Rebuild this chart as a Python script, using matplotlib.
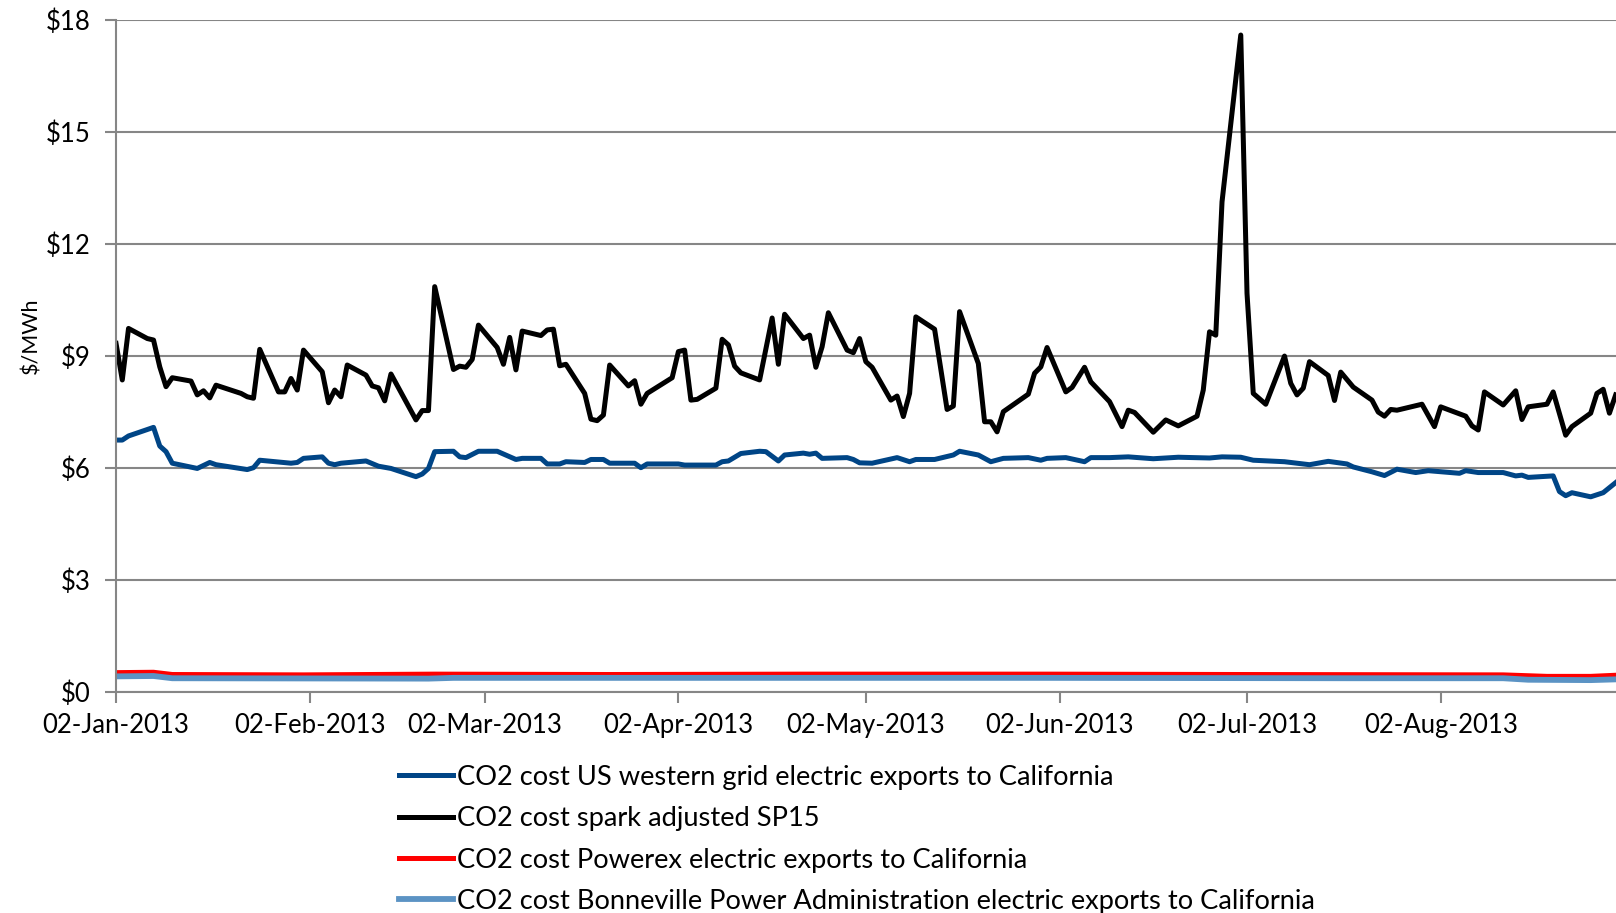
import matplotlib
matplotlib.use("Agg")
import matplotlib.pyplot as plt
import matplotlib.dates as mdates
import pandas as pd

# daily CO2 cost estimates, $/MWh, 2013
spark_days = ["01-02", "01-03", "01-04", "01-07", "01-08", "01-09", "01-10", "01-11", "01-14", "01-15",
              "01-16", "01-17", "01-18", "01-22", "01-23", "01-24", "01-25", "01-28", "01-29", "01-30",
              "01-31", "02-01", "02-04", "02-05", "02-06", "02-07", "02-08", "02-11", "02-12", "02-13",
              "02-14", "02-15", "02-19", "02-20", "02-21", "02-22", "02-25", "02-26", "02-27", "02-28",
              "03-01", "03-04", "03-05", "03-06", "03-07", "03-08", "03-11", "03-12", "03-13", "03-14",
              "03-15", "03-18", "03-19", "03-20", "03-21", "03-22", "03-25", "03-26", "03-27", "03-28",
              "04-01", "04-02", "04-03", "04-04", "04-05", "04-08", "04-09", "04-10", "04-11", "04-12",
              "04-15", "04-17", "04-18", "04-19", "04-22", "04-23", "04-24", "04-25", "04-26", "04-29",
              "04-30", "05-01", "05-02", "05-03", "05-06", "05-07", "05-08", "05-09", "05-10", "05-13",
              "05-15", "05-16", "05-17", "05-20", "05-21", "05-22", "05-23", "05-24", "05-28", "05-29",
              "05-30", "05-31", "06-03", "06-04", "06-06", "06-07", "06-10", "06-12", "06-13", "06-14",
              "06-17", "06-19", "06-21", "06-24", "06-25", "06-26", "06-27", "06-28", "07-01", "07-02",
              "07-03", "07-05", "07-08", "07-09", "07-10", "07-11", "07-12", "07-15", "07-16", "07-17",
              "07-19", "07-22", "07-23", "07-24", "07-25", "07-26", "07-30", "08-01", "08-02", "08-06",
              "08-07", "08-08", "08-09", "08-12", "08-14", "08-15", "08-16", "08-19", "08-20", "08-22",
              "08-23", "08-26", "08-27", "08-28", "08-29", "08-30"]
spark_cost = [9.34, 8.36, 9.74, 9.47, 9.43, 8.71, 8.18, 8.42, 8.33, 7.96,
              8.07, 7.88, 8.22, 8.00, 7.91, 7.87, 9.18, 8.04, 8.04, 8.40,
              8.09, 9.16, 8.58, 7.75, 8.09, 7.91, 8.76, 8.49, 8.20, 8.15,
              7.80, 8.52, 7.29, 7.54, 7.54, 10.86, 8.64, 8.73, 8.70, 8.91,
              9.83, 9.23, 8.78, 9.50, 8.63, 9.67, 9.55, 9.70, 9.72, 8.74,
              8.78, 8.00, 7.31, 7.27, 7.42, 8.76, 8.20, 8.34, 7.71, 8.00,
              8.42, 9.12, 9.16, 7.82, 7.84, 8.14, 9.45, 9.30, 8.73, 8.55,
              8.36, 10.02, 8.78, 10.12, 9.47, 9.56, 8.70, 9.25, 10.16, 9.16,
              9.09, 9.47, 8.85, 8.70, 7.82, 7.93, 7.38, 8.00, 10.05, 9.72,
              7.57, 7.66, 10.19, 8.80, 7.24, 7.24, 6.97, 7.51, 7.98, 8.54,
              8.71, 9.23, 8.04, 8.16, 8.70, 8.31, 7.78, 7.11, 7.55, 7.49,
              6.96, 7.29, 7.13, 7.39, 8.09, 9.65, 9.56, 13.13, 17.60, 10.68,
              8.00, 7.71, 9.00, 8.27, 7.96, 8.14, 8.85, 8.48, 7.81, 8.57,
              8.17, 7.82, 7.50, 7.39, 7.57, 7.55, 7.71, 7.11, 7.64, 7.39,
              7.13, 7.02, 8.04, 7.69, 8.07, 7.30, 7.64, 7.71, 8.04, 6.88,
              7.11, 7.47, 8.00, 8.11, 7.47, 7.96]

west_days = ["01-02", "01-03", "01-04", "01-08", "01-09", "01-10", "01-11", "01-15", "01-17", "01-18",
             "01-23", "01-24", "01-25", "01-30", "01-31", "02-01", "02-04", "02-05", "02-06", "02-07",
             "02-11", "02-13", "02-15", "02-19", "02-20", "02-21", "02-22", "02-25", "02-26", "02-27",
             "03-01", "03-04", "03-07", "03-08", "03-11", "03-12", "03-14", "03-15", "03-18", "03-19",
             "03-21", "03-22", "03-26", "03-27", "03-28", "04-02", "04-03", "04-08", "04-09", "04-10",
             "04-12", "04-15", "04-16", "04-18", "04-19", "04-22", "04-23", "04-24", "04-25", "04-29",
             "04-30", "05-01", "05-03", "05-07", "05-09", "05-10", "05-13", "05-16", "05-17", "05-20",
             "05-22", "05-24", "05-28", "05-30", "05-31", "06-03", "06-06", "06-07", "06-10", "06-13",
             "06-17", "06-21", "06-26", "06-28", "07-01", "07-03", "07-08", "07-10", "07-12", "07-15",
             "07-18", "07-19", "07-22", "07-24", "07-26", "07-29", "07-31", "08-05", "08-06", "08-08",
             "08-12", "08-14", "08-15", "08-16", "08-20", "08-21", "08-22", "08-23", "08-26", "08-28",
             "08-30"]
west_cost = [6.75, 6.75, 6.86, 7.09, 6.59, 6.44, 6.13, 5.99, 6.15, 6.09,
             5.96, 6.01, 6.21, 6.13, 6.15, 6.26, 6.30, 6.13, 6.09, 6.13,
             6.19, 6.05, 5.99, 5.77, 5.84, 5.99, 6.44, 6.45, 6.30, 6.28,
             6.45, 6.45, 6.23, 6.26, 6.26, 6.11, 6.11, 6.17, 6.15, 6.23,
             6.23, 6.13, 6.13, 6.01, 6.11, 6.11, 6.08, 6.08, 6.17, 6.19,
             6.39, 6.45, 6.44, 6.19, 6.35, 6.40, 6.37, 6.40, 6.26, 6.28,
             6.23, 6.14, 6.13, 6.28, 6.17, 6.23, 6.23, 6.35, 6.45, 6.35,
             6.17, 6.26, 6.28, 6.21, 6.26, 6.28, 6.17, 6.28, 6.28, 6.30,
             6.25, 6.29, 6.27, 6.30, 6.29, 6.21, 6.17, 6.13, 6.09, 6.18,
             6.11, 6.03, 5.90, 5.80, 5.97, 5.88, 5.93, 5.86, 5.93, 5.88,
             5.88, 5.79, 5.81, 5.75, 5.79, 5.37, 5.26, 5.34, 5.23, 5.34,
             5.61]

powerex_days = ["01-02", "01-08", "01-11", "02-01", "02-22", "03-22", "04-22", "05-31",
                "07-01", "08-12", "08-19", "08-26", "08-30"]
powerex_cost = [0.52, 0.53, 0.47, 0.46, 0.48, 0.47, 0.48, 0.48,
                0.47, 0.46, 0.42, 0.42, 0.45]

bpa_days = ["01-02", "01-08", "01-11", "02-21", "02-25", "04-12", "05-31", "07-19",
            "08-12", "08-16", "08-26", "08-30"]
bpa_cost = [0.42, 0.43, 0.37, 0.36, 0.38, 0.38, 0.38, 0.37,
            0.37, 0.33, 0.32, 0.34]

labels = ["CO2 cost US western grid electric exports to California",
          "CO2 cost spark adjusted SP15",
          "CO2 cost Powerex electric exports to California",
          "CO2 cost Bonneville Power Administration electric exports to California"]
colors = ["#004586", "#000000", "#ff0000", "#5b93c4"]

plt.rcParams['font.family'] = ['Lato', 'DejaVu Sans']


def to_dates(days):
    return pd.to_datetime(["2013-" + d for d in days])


fig = plt.figure(figsize=(16.16, 9.13), dpi=100)
ax = fig.add_axes([0.0718, 0.242, 0.928, 0.736])

series = [(west_days, west_cost), (spark_days, spark_cost),
          (powerex_days, powerex_cost), (bpa_days, bpa_cost)]
widths = [3.6, 3.6, 3.6, 4.2]
for (d, v), lab, c, w in zip(series, labels, colors, widths):
    ax.plot(to_dates(d), v, color=c, lw=w, label=lab, solid_joinstyle='round')

ax.set_xlim(pd.Timestamp("2013-01-02"), pd.Timestamp("2013-08-30"))
ax.set_ylim(0, 18)
ax.set_yticks(range(0, 19, 3))
ax.yaxis.set_major_formatter(matplotlib.ticker.FuncFormatter(lambda x, p: f"${x:.0f}"))
ax.xaxis.set_major_locator(mdates.MonthLocator(bymonthday=2))
ax.xaxis.set_major_formatter(mdates.DateFormatter("%d-%b-%Y"))

ax.grid(axis='y', color='#868686', lw=1.5)
ax.set_axisbelow(True)
for s in ['top', 'right']:
    ax.spines[s].set_visible(False)
for s in ['left', 'bottom']:
    ax.spines[s].set_color('#868686')
    ax.spines[s].set_linewidth(1.5)
ax.tick_params(axis='both', colors='#868686', length=8, width=1.5, labelcolor='black', labelsize=18.5)
ax.tick_params(axis='x', pad=7)
ax.tick_params(axis='y', pad=10)
ax.set_ylabel("$/MWh", fontsize=15.5)
ax.yaxis.set_label_coords(-0.050, 0.53)

fig.legend(loc='upper left', bbox_to_anchor=(0.240, 0.174), frameon=False, fontsize=19.6,
           handlelength=2.0, handletextpad=0.15, labelspacing=0.6, borderaxespad=0)

fig.savefig("out.png", dpi=100)
